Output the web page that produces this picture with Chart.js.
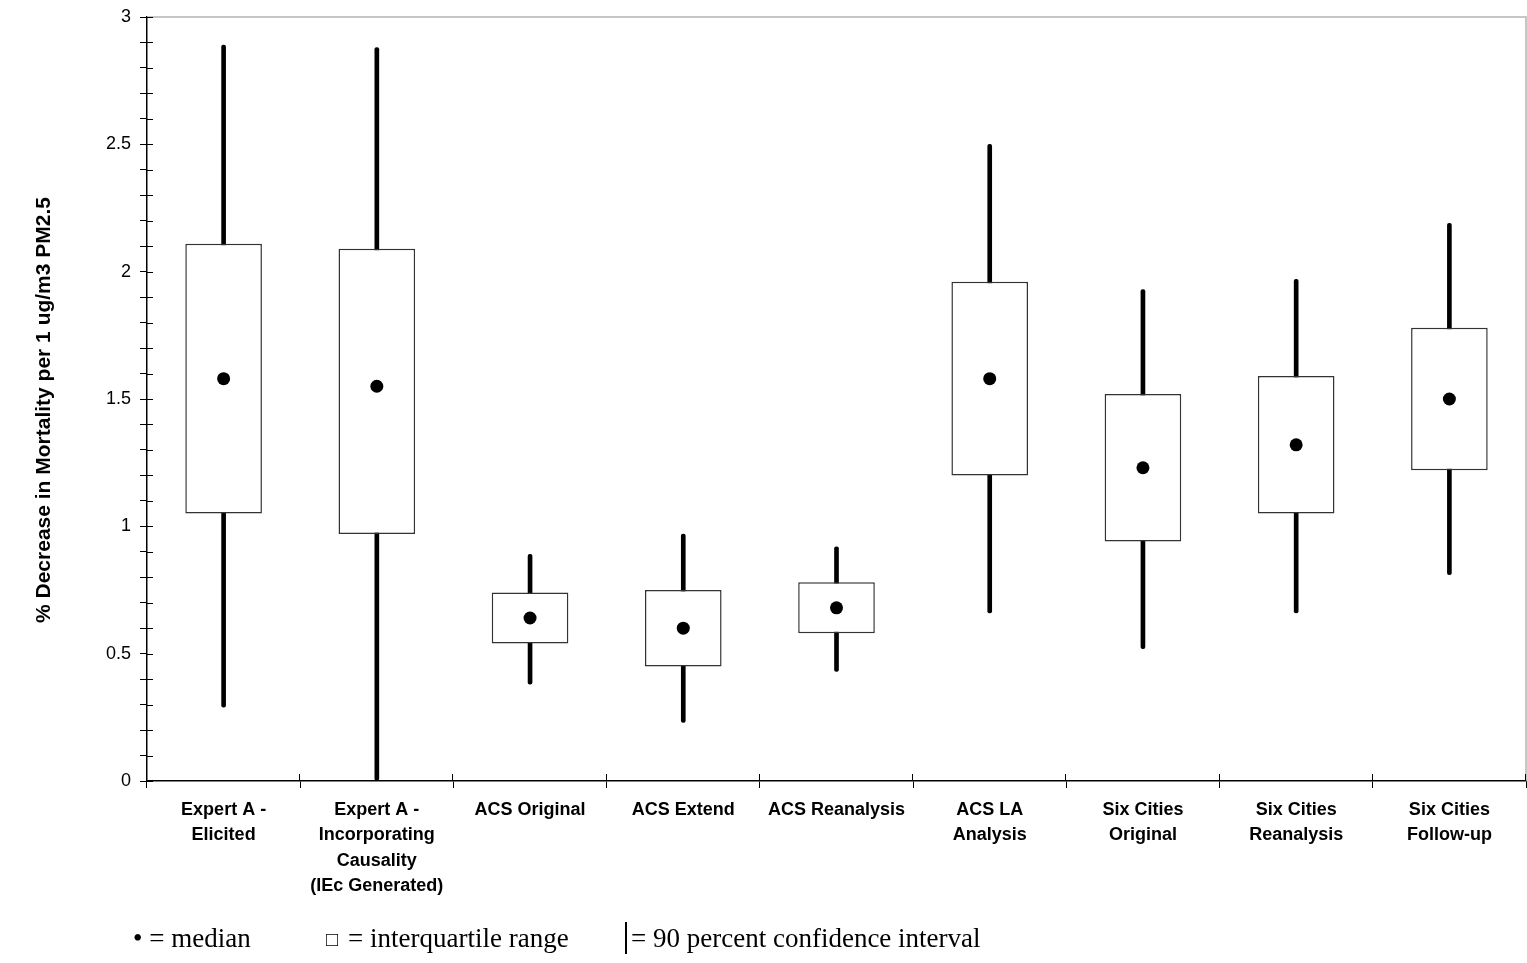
<!DOCTYPE html>
<html>
<head>
<meta charset="utf-8">
<script src="https://cdn.jsdelivr.net/npm/chart.js@4"></script>
<style>
  html, body { margin: 0; padding: 0; overflow: hidden; background: #fff; }
  #wrap { width: 1527px; height: 963px; position: relative; }
</style>
</head>
<body>
<div id="wrap"><canvas id="myChart"></canvas></div>
<script>
const studies = [
  ["Expert A -", "Elicited"],
  ["Expert A -", "Incorporating", "Causality", "(IEc Generated)"],
  "ACS Original",
  "ACS Extend",
  "ACS Reanalysis",
  ["ACS LA", "Analysis"],
  ["Six Cities", "Original"],
  ["Six Cities", "Reanalysis"],
  ["Six Cities", "Follow-up"]
];
const ciLow   = [0.29, 0.00, 0.38, 0.23, 0.43, 0.66, 0.52, 0.66, 0.81];
const ciHigh  = [2.89, 2.88, 0.89, 0.97, 0.92, 2.50, 1.93, 1.97, 2.19];
const q1      = [1.05, 0.97, 0.54, 0.45, 0.58, 1.20, 0.94, 1.05, 1.22];
const q3      = [2.11, 2.09, 0.74, 0.75, 0.78, 1.96, 1.52, 1.59, 1.78];
const medians = [1.58, 1.55, 0.64, 0.60, 0.68, 1.58, 1.23, 1.32, 1.50];
const yTitle = "% Decrease in Mortality per 1 ug/m3 PM2.5";

const sans = "'Liberation Sans', Arial, sans-serif";
const serif = "'Liberation Serif', 'Times New Roman', serif";

// inner halves of tick marks, grey frame, axis title and the key under the chart
const extras = {
  id: "extras",
  afterDraw(chart) {
    const ctx = chart.ctx;
    const area = chart.chartArea;
    const xs = chart.scales.x, ys = chart.scales.y;
    ctx.save();
    ctx.strokeStyle = "#b4b4b4";
    ctx.lineWidth = 1.5;
    ctx.beginPath();
    ctx.moveTo(area.left, area.top);
    ctx.lineTo(area.right, area.top);
    ctx.lineTo(area.right, area.bottom);
    ctx.stroke();

    ctx.strokeStyle = "#000";
    ctx.lineWidth = 1;
    ctx.beginPath();
    ys.ticks.forEach((t, i) => {
      const y = Math.round(ys.getPixelForTick(i)) + 0.5;
      ctx.moveTo(area.left, y);
      ctx.lineTo(area.left + 6, y);
    });
    const w = (xs.right - xs.left) / studies.length;
    for (let k = 1; k <= studies.length; k++) {
      const x = Math.round(xs.left + k * w) - 0.5;
      ctx.moveTo(x, area.bottom);
      ctx.lineTo(x, area.bottom - 7);
    }
    ctx.stroke();

    ctx.fillStyle = "#000";
    ctx.save();
    ctx.translate(44, 410);
    ctx.rotate(-Math.PI / 2);
    ctx.textAlign = "center";
    ctx.textBaseline = "middle";
    ctx.font = "bold 21px " + sans;
    ctx.fillText(yTitle, 0, 0);
    ctx.restore();

    ctx.textBaseline = "alphabetic";
    ctx.font = "27px " + serif;
    ctx.fillText("\u2022 = median", 133, 947);
    ctx.fillText("= interquartile range", 348, 947);
    ctx.font = "20px " + serif;
    ctx.fillText("\u25A1", 326, 946);
    ctx.font = "27px " + serif;
    ctx.fillText("= 90 percent confidence interval", 631, 947);
    ctx.lineWidth = 2;
    ctx.beginPath();
    ctx.moveTo(626, 922);
    ctx.lineTo(626, 954);
    ctx.stroke();
    ctx.restore();
  }
};

const noPad = s => { s.paddingLeft = 0; s.paddingRight = 0; s.paddingTop = 0; s.paddingBottom = 0; };

const ctx = document.getElementById("myChart").getContext("2d");
const chart = new Chart(ctx, {
  type: "bar",
  data: {
    labels: studies,
    datasets: [
      {
        type: "line",
        label: "median",
        data: medians,
        showLine: false,
        pointRadius: 6.5,
        pointHoverRadius: 6.5,
        pointBackgroundColor: "#000",
        pointBorderWidth: 0,
        order: 0
      },
      {
        label: "interquartile range",
        data: q1.map((v, i) => [v, q3[i]]),
        backgroundColor: "#fff",
        borderColor: "#333",
        borderWidth: 1.5,
        borderSkipped: false,
        grouped: false,
        categoryPercentage: 1,
        barPercentage: 0.5,
        order: 1
      },
      {
        label: "90 percent confidence interval",
        data: ciLow.map((v, i) => [v, ciHigh[i]]),
        backgroundColor: "#000",
        borderWidth: 0,
        borderRadius: 2,
        borderSkipped: false,
        grouped: false,
        barThickness: 4,
        order: 2
      }
    ]
  },
  options: {
    responsive: true,
    maintainAspectRatio: false,
    animation: false,
    layout: { autoPadding: false, padding: { top: 17, right: 1, left: 0, bottom: 0 } },
    plugins: {
      legend: { display: false },
      tooltip: { enabled: false }
    },
    scales: {
      x: {
        offset: true,
        grid: { offset: true, drawOnChartArea: false, tickLength: 7, color: "#000" },
        border: { color: "#000", width: 1.5 },
        ticks: {
          color: "#000",
          autoSkip: false,
          maxRotation: 0,
          padding: 10,
          font: { family: sans, size: 18, weight: "bold", lineHeight: 1.39 }
        },
        afterFit: s => { s.height = 182; noPad(s); }
      },
      y: {
        min: 0,
        max: 3,
        grid: { drawOnChartArea: false, tickLength: 7, color: "#000" },
        border: { color: "#000", width: 1.5 },
        ticks: {
          stepSize: 0.1,
          maxTicksLimit: 40,
          autoSkip: false,
          color: "#000",
          padding: 9,
          font: { family: sans, size: 18 },
          callback: v => {
            const h = v * 2;
            return Math.abs(h - Math.round(h)) < 1e-6 ? String(Math.round(v * 10) / 10) : "";
          }
        },
        afterFit: s => { s.width = 147; noPad(s); }
      }
    }
  },
  plugins: [extras]
});
</script>
</body>
</html>
